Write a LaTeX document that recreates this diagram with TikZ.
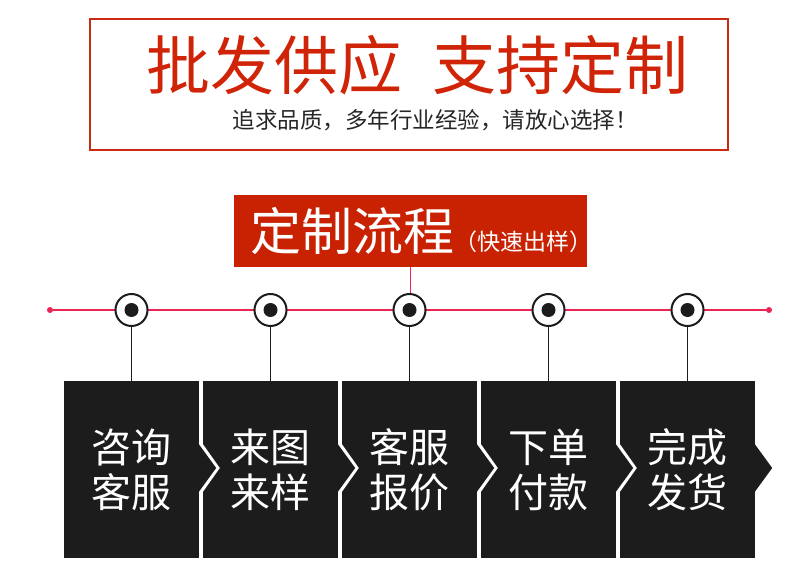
\documentclass[tikz,border=0pt]{standalone}
\usepackage{fontspec}
\newfontfamily\cjk{Noto Sans CJK SC}
\usetikzlibrary{positioning}
\pgfdeclarelayer{flowbg}
\pgfsetlayers{flowbg,main}
\definecolor{framered}{RGB}{204,41,18}
\definecolor{titlered}{RGB}{208,36,8}
\definecolor{flowred}{RGB}{200,34,2}
\definecolor{linepink}{RGB}{236,36,84}
\definecolor{stepblack}{RGB}{28,28,28}
\tikzset{
  stepbox/.style={fill=stepblack, text=white, minimum width=135pt, minimum height=177pt, inner sep=0pt, align=center, font=\cjk\fontsize{40}{45}\selectfont},
  ring/.style={circle, draw=stepblack, line width=2pt, fill=white, minimum size=32pt, inner sep=0pt},
  enddot/.style={circle, fill=linepink, minimum size=6pt, inner sep=0pt},
  pinkline/.style={draw=linepink, line width=1.2pt},
  stemline/.style={draw=stepblack, line width=1.6pt},
}

\begin{document}
\begin{tikzpicture}[x=1pt,y=-1pt]
			\useasboundingbox (0,0) rectangle (800,577);
			\node at (408.5,85) (frame) [draw=framered, line width=2pt, minimum width=638pt, minimum height=131pt, inner sep=0pt] {};
			\node at (417.5,90) (title) [anchor=base, text=titlered, font=\cjk\fontsize{64}{64}\selectfont] {批发供应\hspace{30pt}支持定制};
			\node at (435,129) (slogan) [anchor=base, text=black!85, font=\cjk\fontsize{22.5}{22.5}\selectfont] {追求品质，多年行业经验，请放心选择！};
			\node at (410.5,231) (flow) [fill=flowred, minimum width=353pt, minimum height=72pt, inner sep=0pt] {};
			\node at (250,251) (flowtext) [anchor=base west, inner sep=0pt, text=white, font=\cjk] {\fontsize{51}{51}\selectfont 定制流程\fontsize{23}{23}\selectfont （快速出样）};
			\node at (50,310) (lend) [enddot] {};
			\node at (769,310) (rend) [enddot] {};
			\node at (131.5,310) (c1) [ring] {}; \fill[stepblack] (c1.center) circle (7pt);
			\node at (270.5,310) (c2) [ring] {}; \fill[stepblack] (c2.center) circle (7pt);
			\node at (409.5,310) (c3) [ring] {}; \fill[stepblack] (c3.center) circle (7pt);
			\node at (548.5,310) (c4) [ring] {}; \fill[stepblack] (c4.center) circle (7pt);
			\node at (687.5,310) (c5) [ring] {}; \fill[stepblack] (c5.center) circle (7pt);
			\node at (131.5,469.5) (s1) [stepbox] {咨询\\客服};
			\node at (270.5,469.5) (s2) [stepbox] {来图\\来样};
			\node at (409.5,469.5) (s3) [stepbox] {客服\\报价};
			\node at (548.5,469.5) (s4) [stepbox] {下单\\付款};
			\node at (687.5,469.5) (s5) [stepbox] {完成\\发货};
			\fill[white] (s2.west) ++(0,-25.5) -- ++(17,24) -- ++(-17,24) -- cycle; \fill[white] (s3.west) ++(0,-25.5) -- ++(17,24) -- ++(-17,24) -- cycle;
			\fill[white] (s4.west) ++(0,-25.5) -- ++(17,24) -- ++(-17,24) -- cycle; \fill[white] (s5.west) ++(0,-25.5) -- ++(17,24) -- ++(-17,24) -- cycle;
			\fill[stepblack] (s1.east) ++(-0.5,-25.5) -- ++(17.5,24) -- ++(-17.5,24) -- cycle; \fill[stepblack] (s2.east) ++(-0.5,-25.5) -- ++(17.5,24) -- ++(-17.5,24) -- cycle;
			\fill[stepblack] (s3.east) ++(-0.5,-25.5) -- ++(17.5,24) -- ++(-17.5,24) -- cycle; \fill[stepblack] (s4.east) ++(-0.5,-25.5) -- ++(17.5,24) -- ++(-17.5,24) -- cycle;
			\fill[stepblack] (s5.east) ++(-0.5,-25.5) -- ++(17.5,24) -- ++(-17.5,24) -- cycle;
			\begin{pgfonlayer}{flowbg}
			\draw[pinkline] (lend) -- (rend); \draw[pinkline] (flow.south) -- (flow.south |- c3.center);
			\draw[stemline] (c1) -- (s1.north); \draw[stemline] (c2) -- (s2.north); \draw[stemline] (c3) -- (s3.north);
			\draw[stemline] (c4) -- (s4.north); \draw[stemline] (c5) -- (s5.north);
			\end{pgfonlayer}
			\end{tikzpicture}
\end{document}
